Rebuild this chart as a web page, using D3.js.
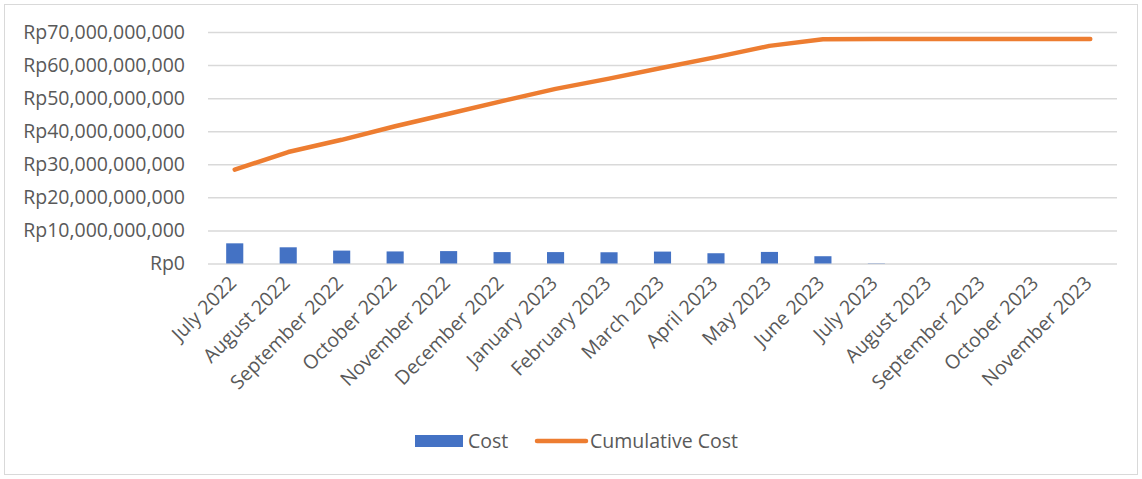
<!DOCTYPE html>
<html>
<head>
<meta charset="utf-8">
<script src="https://d3js.org/d3.v7.min.js"></script>
<style>
    body { margin: 0; background: #fff; }
    text { font-family: "Open Sans", sans-serif; fill: #595959; }
</style>
</head>
<body>
<svg id="chart" width="1142" height="479"></svg>
<script>
/*
 * Data
 */
var MONTHS = ['July 2022', 'August 2022', 'September 2022', 'October 2022',
    'November 2022', 'December 2022', 'January 2023', 'February 2023',
    'March 2023', 'April 2023', 'May 2023', 'June 2023', 'July 2023',
    'August 2023', 'September 2023', 'October 2023', 'November 2023'];

// billions of rupiah
var COST = [6.1, 4.9, 3.9, 3.65, 3.75, 3.45, 3.45, 3.4, 3.6, 3.1, 3.5, 2.2, 0.08, 0, 0, 0, 0];
var CUMULATIVE = [28.4, 33.7, 37.4, 41.5, 45.3, 49.1, 52.8, 55.9, 59.2, 62.4, 65.8, 67.8,
    67.9, 67.9, 67.9, 67.9, 67.9];

var Y_TICKS = [0, 10, 20, 30, 40, 50, 60, 70];

var SERIES_NAMES = ['Cost', 'Cumulative Cost'];

/*
 * Style variables
 */
var ID_CHART = 'chart',
    COLOR_BAR = '#4472C4',
    COLOR_LINE = '#ED7D31',
    COLOR_GRID = '#d9d9d9',
    FONT_SIZE = 19.5;

var MARGIN = { left: 208, right: 25, top: 32, bottom: 216 };

function ID(id) {
    return '#' + id;
}

function formatRupiah(v) {
    if (v === 0) return 'Rp0';
    return 'Rp' + d3.format(',')(v * 1e9);
}

function initChart() {
    var svg = d3.select(ID(ID_CHART));
    var width = +svg.attr('width'),
        height = +svg.attr('height');

    // outer frame
    svg.append('rect')
        .attr('x', 4.5).attr('y', 4.5)
        .attr('width', width - 9).attr('height', height - 9)
        .attr('fill', 'none')
        .attr('stroke', COLOR_GRID)
        .attr('stroke-width', 1);

    var x = d3.scaleBand()
        .domain(MONTHS)
        .range([MARGIN.left, width - MARGIN.right])
        .paddingInner(0.68)
        .paddingOuter(0.34);

    var y = d3.scaleLinear()
        .domain([0, 70])
        .range([height - MARGIN.bottom + 0.5, MARGIN.top]);

    /*
     * Gridlines + y labels
     */
    var yAxis = d3.axisLeft(y)
        .tickValues(Y_TICKS)
        .tickSize(-(width - MARGIN.right - MARGIN.left))
        .tickPadding(23)
        .tickFormat(formatRupiah);

    var gy = svg.append('g')
        .attr('transform', 'translate(' + MARGIN.left + ',0)')
        .call(yAxis);
    gy.select('.domain').remove();
    gy.selectAll('line')
        .attr('stroke', COLOR_GRID)
        .attr('stroke-width', 1.5);
    gy.selectAll('text')
        .style('font-size', FONT_SIZE + 'px')
        .style('font-family', '"Open Sans", sans-serif')
        .attr('fill', '#595959');

    /*
     * Bars
     */
    svg.append('g').selectAll('rect')
        .data(COST)
        .enter()
        .append('rect')
        .attr('x', function (d, i) { return x(MONTHS[i]); })
        .attr('width', x.bandwidth())
        .attr('y', function (d) { return y(d); })
        .attr('height', function (d) { return y(0) - y(d); })
        .attr('fill', COLOR_BAR);

    /*
     * Cumulative line
     */
    var line = d3.line()
        .x(function (d, i) { return x(MONTHS[i]) + x.bandwidth() / 2; })
        .y(function (d) { return y(d); });

    svg.append('path')
        .datum(CUMULATIVE)
        .attr('d', line)
        .attr('fill', 'none')
        .attr('stroke', COLOR_LINE)
        .attr('stroke-width', 4.5)
        .attr('stroke-linecap', 'round')
        .attr('stroke-linejoin', 'round');

    /*
     * X labels, rotated
     */
    var xAxis = d3.axisBottom(x).tickSize(0).tickPadding(0);
    var gx = svg.append('g')
        .attr('transform', 'translate(0,' + y(0) + ')')
        .call(xAxis);
    gx.select('.domain').remove();
    gx.selectAll('text')
        .style('font-size', FONT_SIZE + 'px')
        .style('font-family', '"Open Sans", sans-serif')
        .attr('fill', '#595959')
        .attr('text-anchor', 'end')
        .attr('dy', '0.35em')
        .attr('transform', 'translate(-2,16) rotate(-45)');

    /*
     * Legend
     */
    var legend = svg.append('g');
    legend.append('rect')
        .attr('x', 415).attr('y', 435)
        .attr('width', 48).attr('height', 12)
        .attr('fill', COLOR_BAR);
    legend.append('text')
        .attr('x', 468).attr('y', 441)
        .attr('dy', '0.35em')
        .style('font-size', FONT_SIZE + 'px')
        .text(SERIES_NAMES[0]);
    legend.append('line')
        .attr('x1', 537).attr('x2', 586)
        .attr('y1', 441).attr('y2', 441)
        .attr('stroke', COLOR_LINE)
        .attr('stroke-width', 4.5)
        .attr('stroke-linecap', 'round');
    legend.append('text')
        .attr('x', 590).attr('y', 441)
        .attr('dy', '0.35em')
        .style('font-size', FONT_SIZE + 'px')
        .text(SERIES_NAMES[1]);
}

(function () {
    initChart();
})();
</script>
</body>
</html>
